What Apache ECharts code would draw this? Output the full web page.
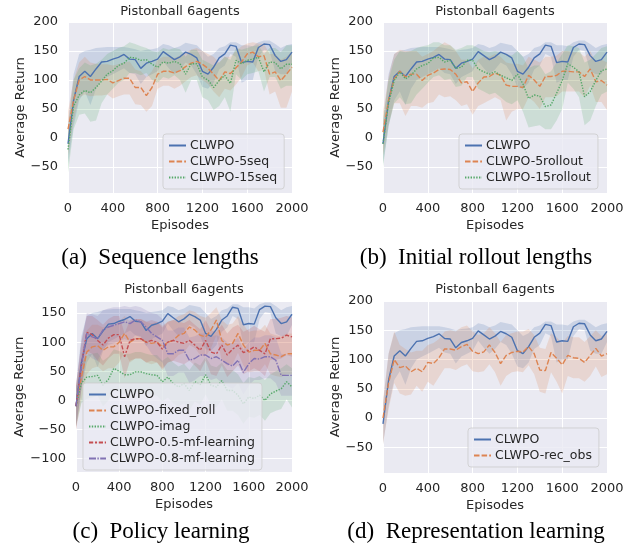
<!DOCTYPE html>
<html><head><meta charset="utf-8">
<script src="https://cdn.jsdelivr.net/npm/echarts@6/dist/echarts.min.js"></script>
<style>html,body{margin:0;padding:0;background:#fff}#c{width:633px;height:548px}</style>
</head><body><div id="c"></div>
<script>
const episodes = [0,50,100,150,200,250,300,350,400,450,500,550,600,650,700,750,800,850,900,950,1000,1050,1100,1150,1200,1250,1300,1350,1400,1450,1500,1550,1600,1650,1700,1750,1800,1850,1900,1950,2000];
const xTicks = [0,400,800,1200,1600,2000];
const yTicksA = [-50,0,50,100,150,200];
const yTicksC = [-100,-50,0,50,100,150];

const clwpoMean = [-10,65,106,115,106,119,131,132,136,139,144,136,135,120,129,132,136,149,142,135,140,148,144,138,115,110,122,138,145,160,158,130,132,131,156,162,161,142,132,135,148];
const clwpoHi = [25,110,145,150,152,155,156,157,157,157,157,155,153,150,152,153,155,162,160,155,158,164,162,160,150,140,145,155,158,165,165,160,160,158,165,168,168,162,155,160,162];
const clwpoLo = [-45,20,65,80,57,85,100,105,110,115,120,112,110,93,105,110,115,132,120,110,118,130,125,110,88,85,95,118,125,145,140,95,100,100,140,152,150,115,110,110,130];

const seq5Mean = [15,65,100,106,100,100,100,101,95,99,103,103,87,87,73,87,110,115,115,112,116,123,129,132,127,120,110,99,114,111,121,131,145,148,140,142,110,114,99,110,122];
const seq5Hi = [45,100,130,140,130,128,127,127,125,127,130,132,118,115,105,115,135,140,140,138,142,148,152,155,150,145,140,130,140,140,150,158,163,165,163,162,145,145,135,140,150];
const seq5Lo = [-30,30,70,75,72,73,73,75,68,72,75,75,58,57,45,55,85,90,90,85,90,98,105,108,100,93,80,70,85,82,92,105,125,130,115,118,75,80,52,52,80];

const seq15Mean = [-20,55,74,82,78,87,98,110,116,125,129,139,138,134,135,127,122,131,129,132,128,110,128,128,105,100,87,99,108,94,134,128,134,136,139,114,131,130,119,127,127];
const seq15Hi = [15,100,120,130,125,128,135,145,150,155,158,165,162,158,155,150,148,155,152,155,153,140,152,152,135,130,125,130,140,135,155,152,155,158,160,145,155,155,148,160,160];
const seq15Lo = [-60,15,40,42,28,30,60,75,85,95,100,112,112,108,112,100,95,105,102,108,100,78,100,100,70,65,48,55,70,45,110,100,110,112,115,80,105,105,85,90,90];

const roll5Mean = [10,65,102,115,105,110,110,99,108,112,118,119,118,110,95,97,80,95,105,106,112,108,91,89,89,87,108,100,89,106,106,108,115,115,114,114,106,119,97,99,91];
const roll5Hi = [45,105,145,152,150,150,150,140,145,150,158,165,160,150,135,135,120,135,140,140,145,140,130,128,128,125,140,135,130,140,140,142,150,150,148,148,140,150,130,135,130];
const roll5Lo = [-30,25,60,60,38,55,55,52,60,62,75,70,72,65,55,58,40,55,60,65,70,65,30,45,50,50,70,62,50,70,70,72,80,80,80,80,70,90,62,62,48];

const roll15Mean = [-10,60,99,114,102,108,119,125,128,138,139,131,134,120,122,134,134,119,114,110,114,108,104,99,110,93,68,74,72,54,57,77,99,128,122,114,71,80,99,116,119];
const roll15Hi = [30,100,135,150,148,150,155,158,160,165,165,160,160,152,155,160,160,155,150,148,150,148,145,142,150,140,120,125,125,110,115,130,145,160,158,155,130,135,145,155,158];
const roll15Lo = [-50,20,60,70,58,60,75,85,95,105,108,100,102,88,90,105,105,85,80,75,78,70,62,58,65,45,18,20,22,15,15,30,50,95,85,70,22,30,55,75,80];

const fixedMean = [-10,40,83,92,94,86,92,92,100,115,100,106,106,100,98,100,92,100,103,112,115,126,121,112,109,121,138,103,95,98,115,95,83,86,86,98,80,78,75,80,80];
const fixedHi = [25,80,120,130,130,125,128,128,135,145,135,140,140,135,132,135,128,135,138,145,148,155,152,145,142,150,160,138,130,132,145,130,118,120,120,130,115,112,110,115,115];
const fixedLo = [-50,0,45,55,58,50,55,55,65,85,65,72,72,65,62,65,55,65,68,78,82,95,90,78,75,90,112,68,60,62,82,60,48,50,50,62,45,42,40,45,45];

const imagMean = [-10,30,40,41,43,26,36,55,50,44,44,49,49,46,44,43,32,40,29,23,29,17,32,27,44,26,23,34,17,17,9,-6,6,3,9,0,11,16,20,32,23];
const imagHi = [20,65,78,80,82,68,75,88,85,80,80,83,83,80,78,78,68,75,65,58,63,52,65,60,75,60,57,65,52,52,45,30,40,38,42,35,45,50,55,62,55];
const imagLo = [-45,-5,3,5,8,-10,0,20,15,10,10,15,15,12,10,8,-2,5,-5,-10,-5,-18,-2,-8,10,-8,-12,2,-18,-18,-25,-40,-28,-30,-25,-35,-22,-18,-15,2,-12];

const mf05Mean = [-10,60,117,113,103,95,107,113,113,75,103,106,106,100,103,100,88,100,103,100,98,103,95,86,103,83,80,95,78,88,95,82,86,92,86,80,106,106,107,112,109];
const mf05Hi = [25,100,145,145,138,130,140,145,145,115,138,140,140,135,138,135,125,135,138,135,133,138,130,122,138,120,118,130,115,125,130,118,122,128,122,118,140,140,142,145,143];
const mf05Lo = [-50,20,85,80,68,60,72,80,80,38,68,72,72,65,68,65,52,65,68,65,62,68,60,50,68,45,42,60,40,50,60,45,50,55,50,42,70,70,72,78,75];

const mf08Mean = [-10,60,115,109,106,121,126,129,132,135,132,138,135,126,115,109,103,80,80,86,86,69,72,78,78,72,75,69,63,59,69,48,63,72,71,75,75,69,43,43,43];
const mf08Hi = [25,100,150,148,145,155,158,160,160,162,160,162,160,155,150,148,140,120,120,125,125,108,110,115,115,110,112,108,100,98,108,88,100,108,108,112,112,108,80,78,78];
const mf08Lo = [-50,20,80,72,68,88,95,98,102,105,102,112,108,95,80,72,65,42,42,48,48,30,35,42,42,35,38,30,25,20,30,10,25,35,35,38,38,30,8,8,8];

const recMean = [0,60,100,86,89,79,85,79,95,93,103,118,118,116,122,126,114,110,113,125,112,93,107,112,114,113,122,110,82,81,112,102,91,107,103,102,95,107,119,106,110];
const recHi = [30,110,148,125,118,112,115,115,125,128,135,148,150,148,155,158,148,142,145,155,145,130,142,145,148,148,152,142,120,118,145,138,128,140,138,138,130,140,150,140,145];
const recLo = [-45,15,60,42,38,40,55,45,62,55,70,85,85,82,88,92,80,78,80,92,78,55,72,78,80,78,90,75,45,42,78,62,42,72,68,68,62,72,88,70,75];

const seriesData = {
  'CLWPO': [clwpoMean, clwpoLo, clwpoHi],
  'CLWPO-5seq': [seq5Mean, seq5Lo, seq5Hi],
  'CLWPO-15seq': [seq15Mean, seq15Lo, seq15Hi],
  'CLWPO-5rollout': [roll5Mean, roll5Lo, roll5Hi],
  'CLWPO-15rollout': [roll15Mean, roll15Lo, roll15Hi],
  'CLWPO-fixed_roll': [fixedMean, fixedLo, fixedHi],
  'CLWPO-imag': [imagMean, imagLo, imagHi],
  'CLWPO-0.5-mf-learning': [mf05Mean, mf05Lo, mf05Hi],
  'CLWPO-0.8-mf-learning': [mf08Mean, mf08Lo, mf08Hi],
  'CLWPO-rec_obs': [recMean, recLo, recHi]
};
const panelTitle = 'Pistonball 6agents';
const xName = 'Episodes';
const yName = 'Average Return';

const colors = ['#4C72B0', '#DD8452', '#55A868', '#C44E52', '#8172B3'];
const dashes = ['solid', [5.5, 2.1], [1.4, 1.4], [4.2, 1.75, 2.1, 1.75], [7, 1.4, 1.4, 1.4]];

const panels = [
  {names: ['CLWPO','CLWPO-5seq','CLWPO-15seq'], grid: {left: 68, top: 22, width: 224, height: 171}, ymin: -95, ymax: 200, yticks: yTicksA, nameGap: 41, legend: {left: 163, top: 134}, caption: '(a)\u00a0 Sequence lengths', cap: [160, 258], tY: 12},
  {names: ['CLWPO','CLWPO-5rollout','CLWPO-15rollout'], grid: {left: 383, top: 22, width: 224, height: 171}, ymin: -95, ymax: 200, yticks: yTicksA, nameGap: 41, legend: {left: 459, top: 134}, caption: '(b)\u00a0 Initial rollout lengths', cap: [476, 258], tY: 12},
  {names: ['CLWPO','CLWPO-fixed_roll','CLWPO-imag','CLWPO-0.5-mf-learning','CLWPO-0.8-mf-learning'], grid: {left: 76, top: 302, width: 216, height: 170}, ymin: -123, ymax: 169, yticks: yTicksC, nameGap: 49, legend: {left: 83, top: 383}, caption: '(c)\u00a0 Policy learning', cap: [161, 532], tY: 290},
  {names: ['CLWPO','CLWPO-rec_obs'], grid: {left: 383, top: 301, width: 224, height: 172}, ymin: -94, ymax: 200, yticks: yTicksA, nameGap: 41, legend: {left: 468, top: 428}, caption: '(d)\u00a0 Representation learning', cap: [476, 532], tY: 290}
];

const font = 'DejaVu Sans';
const txt = '#262626';
const option = {
  animation: false,
  backgroundColor: '#ffffff',
  grid: [], xAxis: [], yAxis: [], series: [], legend: [], graphic: []
};

panels.forEach((p, i) => {
  option.grid.push(Object.assign({show: true, backgroundColor: '#EAEAF2', borderWidth: 0, containLabel: false}, p.grid));
  option.xAxis.push({
    gridIndex: i, type: 'value', min: 0, max: 2000, interval: 400,
    axisLine: {show: false}, axisTick: {show: false},
    splitLine: {show: true, lineStyle: {color: '#ffffff', width: 1}},
    axisLabel: {color: txt, fontSize: 13, fontFamily: font, margin: 9, showMaxLabel: true, showMinLabel: true, hideOverlap: false,
      formatter: v => String(v)},
    name: xName, nameLocation: 'middle', nameGap: 26,
    nameTextStyle: {color: txt, fontSize: 13, fontFamily: font}
  });
  option.yAxis.push({
    gridIndex: i, type: 'value', min: p.ymin, max: p.ymax,
    axisLine: {show: false},
    axisTick: {show: false, customValues: p.yticks},
    splitLine: {show: true, lineStyle: {color: '#ffffff', width: 1}},
    axisLabel: {customValues: p.yticks, color: txt, fontSize: 13, fontFamily: font, margin: 10,
      formatter: v => (v < 0 ? '\u2212' + Math.abs(v) : String(v))},
    name: yName, nameLocation: 'middle', nameGap: p.nameGap, nameRotate: 90,
    nameTextStyle: {color: txt, fontSize: 13, fontFamily: font}
  });
  // bands (mean ± spread), drawn as one polygon through the axis scales
  p.names.forEach((n, k) => {
    const lo = seriesData[n][1], hi = seriesData[n][2];
    const col = colors[k];
    option.series.push({
      name: '_band' + i + '_' + k, type: 'custom', xAxisIndex: i, yAxisIndex: i,
      silent: true, z: 1, clip: true,
      data: episodes.map((x, j) => [x, lo[j], hi[j]]),
      encode: {x: 0, y: [1, 2]},
      renderItem: (params, api) => {
        if (params.dataIndex !== 0) return null;
        const pts = [];
        for (let j = 0; j < episodes.length; j++) pts.push(api.coord([episodes[j], hi[j]]));
        for (let j = episodes.length - 1; j >= 0; j--) pts.push(api.coord([episodes[j], lo[j]]));
        const cs = params.coordSys;
        return {
          type: 'polygon', shape: {points: pts},
          style: {fill: col, opacity: 0.2},
          clipPath: {type: 'rect', shape: {x: cs.x, y: cs.y, width: cs.width, height: cs.height}}
        };
      }
    });
  });
  p.names.forEach((n, k) => {
    const m = seriesData[n][0];
    option.series.push({
      name: n, type: 'line', xAxisIndex: i, yAxisIndex: i,
      data: episodes.map((x, j) => [x, m[j]]),
      symbol: 'none', showSymbol: false, z: 3,
      color: colors[k],
      lineStyle: {color: colors[k], width: 1.4, type: dashes[k]}
    });
  });
  option.legend.push({
    data: p.names, orient: 'vertical', left: p.legend.left, top: p.legend.top,
    itemWidth: 17, itemHeight: 12, itemGap: 3,
    padding: [5, 7, 5, 5],
    backgroundColor: 'rgba(234,234,242,0.8)', borderColor: 'rgba(204,204,204,0.8)', borderWidth: 1, borderRadius: 3,
    itemStyle: {color: 'rgba(0,0,0,0)', borderWidth: 0, opacity: 0},
    textStyle: {color: txt, fontSize: 12.5, fontFamily: font, padding: [0, 0, 0, -1]},
    selectedMode: false
  });
  option.graphic.push({
    type: 'text', x: p.grid.left + p.grid.width / 2, y: p.tY, silent: true,
    style: {text: panelTitle, fill: txt, font: '13px "DejaVu Sans"', align: 'center', verticalAlign: 'middle'}
  });
  option.graphic.push({
    type: 'text', x: p.cap[0], y: p.cap[1], silent: true,
    style: {text: p.caption, fill: '#000', font: '23px "Liberation Serif"', align: 'center', verticalAlign: 'middle'}
  });
});

const chart = echarts.init(document.getElementById('c'), null, {renderer: 'canvas'});
chart.setOption(option);
</script>
</body></html>
